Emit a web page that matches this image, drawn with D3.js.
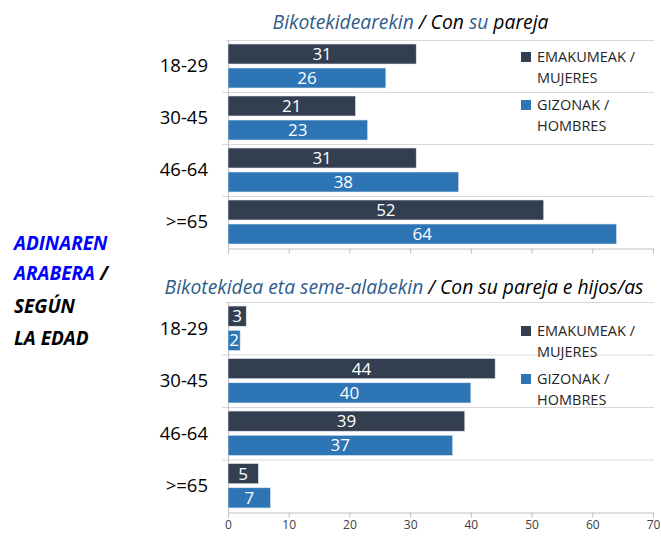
<!DOCTYPE html>
<html><head><meta charset="utf-8">
<script src="https://cdn.jsdelivr.net/npm/d3@7"></script>
<style>
body{margin:0;background:#fff;}
svg{display:block;font-family:"Open Sans",sans-serif;}
</style></head>
<body>
<svg id="c" width="661" height="536"></svg>
<script>
const categories = ["18-29","30-45","46-64",">=65"];
const seriesNames = ["EMAKUMEAK / MUJERES","GIZONAK / HOMBRES"];
const legendLines = [["EMAKUMEAK /","MUJERES"],["GIZONAK /","HOMBRES"]];
const pareja_mujeres = [31,21,31,52];
const pareja_hombres = [26,23,38,64];
const hijos_mujeres = [3,44,39,5];
const hijos_hombres = [2,40,37,7];
const xTicks = [0,10,20,30,40,50,60,70];
const colors = ["#333F50","#2E75B6"];

const svg = d3.select("#c");
const x = d3.scaleLinear().domain([0,70]).range([228,653]);

function panel(top, bottom, vals, showLabels, legendY){
  const y = d3.scaleBand().domain(categories).range([top,bottom]).padding(0);
  const inner = d3.scaleBand().domain([0,1]).range([0,y.bandwidth()]).paddingInner(1/6).paddingOuter(1/6);
  const g = svg.append("g");
  const bounds = categories.map(c=>y(c));
  g.selectAll("line.grid").data(bounds).join("line")
    .attr("x1",(d,i)=>i===0?226:222).attr("x2",654).attr("y1",d=>d+0.5).attr("y2",d=>d+0.5)
    .attr("stroke","#d9d9d9").attr("stroke-width",1);
  g.append("line").attr("x1",x(0)+0.5).attr("x2",x(0)+0.5).attr("y1",top).attr("y2",bottom)
    .attr("stroke","#bfbfbf");
  const ax = d3.axisBottom(x).tickValues(xTicks).tickSize(5).tickSizeOuter(0).tickPadding(3)
    .tickFormat(showLabels? d3.format("d") : ()=>"");
  const axg = g.append("g").attr("transform",`translate(0,${bottom+0.5})`).call(ax);
  axg.select(".domain").attr("stroke","#bfbfbf");
  axg.selectAll(".tick line").attr("stroke","#bfbfbf");
  axg.selectAll(".tick text").attr("fill","#404040").attr("font-size",12)
    .attr("font-family","'Open Sans',sans-serif");
  g.selectAll("text.cat").data(categories).join("text")
    .attr("x",208).attr("y",d=>y(d)+y.bandwidth()/2).attr("dy","0.35em")
    .attr("text-anchor","end").attr("font-size",18.5).attr("fill","#000").text(d=>d);
  vals.forEach((arr,si)=>{
    const data = categories.map((c,i)=>({c,v:arr[i]}));
    g.selectAll("rect.s"+si).data(data).join("rect")
      .attr("x",x(0)).attr("y",d=>y(d.c)+inner(si)).attr("width",d=>x(d.v)-x(0))
      .attr("height",inner.bandwidth()).attr("fill",colors[si])
      .attr("stroke","#dfe6ee").attr("stroke-width",0.6);
    g.selectAll("text.v"+si).data(data).join("text")
      .attr("x",d=>(x(d.v)+x(0))/2).attr("y",d=>y(d.c)+inner(si)+inner.bandwidth()/2)
      .attr("dy","0.36em").attr("text-anchor","middle").attr("font-size",17)
      .attr("fill","#fff").text(d=>d.v);
  });
  legendLines.forEach((ls,i)=>{
    const ly = legendY + i*48;
    g.append("rect").attr("x",521).attr("y",ly-5).attr("width",10).attr("height",10).attr("fill",colors[i]);
    ls.forEach((t,j)=>{
      g.append("text").attr("x",537).attr("y",ly+j*21).attr("dy","0.35em")
        .attr("font-size",14.5).attr("fill","#262626").text(t);
    });
  });
}

panel(40,248,[pareja_mujeres,pareja_hombres],false,57);
panel(302,512,[hijos_mujeres,hijos_hombres],true,331);

const t1 = svg.append("text").attr("x",410.5).attr("y",29).attr("text-anchor","middle")
  .attr("font-size",19.3).attr("font-style","italic");
t1.append("tspan").attr("fill","#2E5C8A").text("Bikotekidearekin");
t1.append("tspan").attr("fill","#000").text(" / Con ");
t1.append("tspan").attr("fill","#2E5C8A").text("su");
t1.append("tspan").attr("fill","#000").text(" pareja");

const t2 = svg.append("text").attr("x",404).attr("y",294).attr("text-anchor","middle")
  .attr("font-size",19.3).attr("font-style","italic");
t2.append("tspan").attr("fill","#2E5C8A").text("Bikotekidea eta seme-alabekin");
t2.append("tspan").attr("fill","#000").text(" / Con su pareja e hijos/as");

const side = [[["ADINAREN","#0000FF"]],[["ARABERA","#0000FF"],[" /","#000"]],[["SEGÚN","#000"]],[["LA EDAD","#000"]]];
const sideY = [250,280,313,345];
side.forEach((parts,i)=>{
  const t = svg.append("text").attr("x",14).attr("y",sideY[i]).attr("font-size",19)
    .attr("font-weight","bold").attr("font-style","italic");
  parts.forEach(p=>t.append("tspan").attr("fill",p[1]).text(p[0]));
});
</script>
</body></html>
